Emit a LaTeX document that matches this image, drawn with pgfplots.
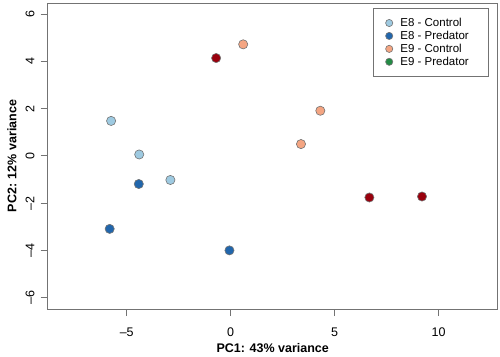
\documentclass[border=0pt]{standalone}
\usepackage{fontspec}
\setmainfont{Liberation Sans}
\usepackage{pgfplots}
\pgfplotsset{compat=1.18}
\definecolor{lblue}{RGB}{158,202,225}
\definecolor{dblue}{RGB}{33,102,172}
\definecolor{salmon}{RGB}{244,165,130}
\definecolor{dred}{RGB}{153,0,13}
\definecolor{pgreen}{RGB}{35,139,69}
\pgfplotsset{
  mylegimg/.style={legend image code/.code={\path[draw=none] (0pt,0pt) -- (9.2pt,0pt); \draw[##1, mark size=3.6pt] plot coordinates {(0pt,0pt)};}},
}
\begin{document}
\begin{tikzpicture}
\path[use as bounding box] (-47.7pt,-47pt) rectangle (452.3pt,309pt);
\begin{axis}[
  at={(0,0)}, anchor=south west,
  width=450pt, height=306pt, scale only axis,
  xmin=-8.8, xmax=12.84, ymin=-6.48, ymax=6.47,
  axis line style={black!55, line width=0.8pt},
  every tick/.style={black!55, line width=0.8pt},
  xtick={-5,0,5,10}, ytick={-6,-4,-2,0,2,4,6},
  xticklabels={--5,0,5,10}, yticklabels={--6,--4,--2,0,2,4,6},
  tick align=outside, tick pos=left, major tick length=7pt,
  ticklabel style={font=\fontsize{12.5}{14}\selectfont},
  xticklabel style={anchor=center, yshift=-16pt},
  yticklabel style={anchor=center, rotate=90, yshift=10.7pt},
  xlabel={\textbf{PC1: 43\% variance}},
  ylabel={\textbf{PC2: 12\% variance}},
  label style={font=\fontsize{12.5}{14}\selectfont},
  xlabel style={at={(axis description cs:0.5,0)}, anchor=center, yshift=-39pt},
  ylabel style={at={(axis description cs:0,0.5)}, anchor=center, rotate=0, yshift=35.7pt},
  legend style={at={(1,1)}, anchor=north east, xshift=-9.2pt, yshift=-5.3pt,
    draw=black!55, line width=0.6pt, font=\fontsize{11.5}{13}\selectfont,
    cells={anchor=west}, row sep=-0.9pt, inner xsep=12.4pt, inner ysep=7.5pt},
]
\addplot[only marks, mark=*, mark size=4.6pt, mylegimg, mark options={fill=lblue, draw=black!55, line width=0.6pt}]
  coordinates {(-5.75,1.48) (-4.40,0.06) (-2.90,-1.02)};
\addlegendentry{E8 - Control\hspace*{5pt}}
\addplot[only marks, mark=*, mark size=4.6pt, mylegimg, mark options={fill=dblue, draw=black!55, line width=0.6pt}]
  coordinates {(-4.42,-1.19) (-5.82,-3.09) (-0.06,-4.00)};
\addlegendentry{E8 - Predator\hspace*{5pt}}
\addplot[only marks, mark=*, mark size=4.6pt, mylegimg, mark options={fill=salmon, draw=black!55, line width=0.6pt}]
  coordinates {(0.60,4.72) (4.31,1.91) (3.38,0.50)};
\addlegendentry{E9 - Control\hspace*{5pt}}
\addlegendimage{only marks, mark=*, mylegimg, mark options={fill=pgreen, draw=black!55, line width=0.6pt}}
\addlegendentry{E9 - Predator\hspace*{5pt}}
\addplot[only marks, mark=*, mark size=4.6pt, forget plot, mark options={fill=dred, draw=black!55, line width=0.6pt}]
  coordinates {(-0.70,4.14) (6.67,-1.76) (9.20,-1.72)};
\end{axis}
\end{tikzpicture}
\end{document}
